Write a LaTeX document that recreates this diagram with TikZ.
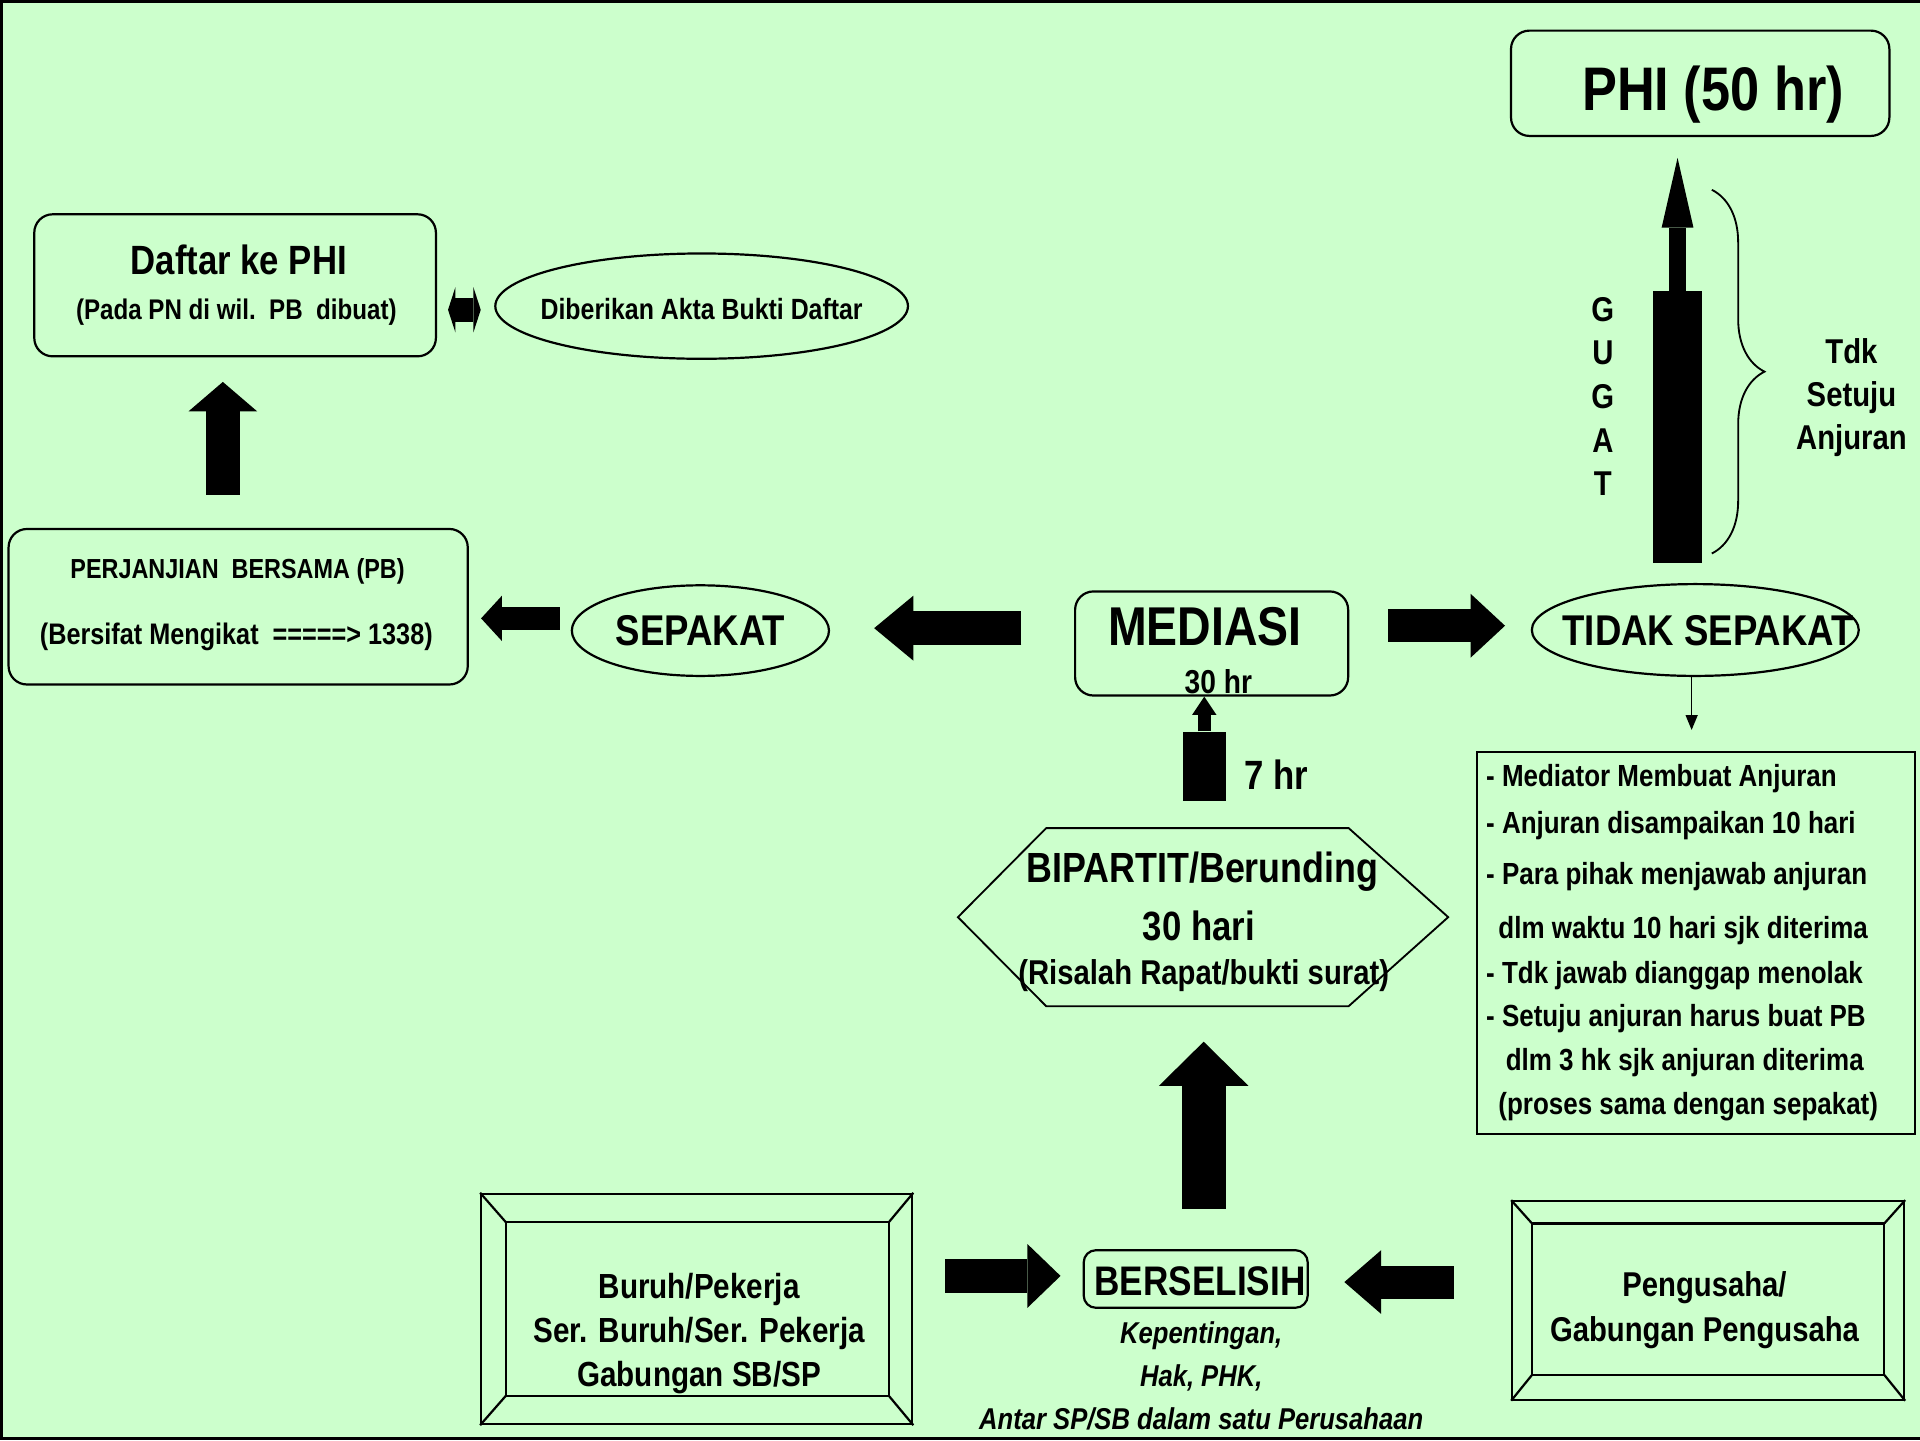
\documentclass[tikz,border=0pt]{standalone}
\usepackage{fontspec}
\setmainfont{Liberation Sans}[FakeStretch=0.85]
\usetikzlibrary{arrows.meta,calc,shapes.geometric,decorations.pathreplacing}
\definecolor{bggreen}{HTML}{CCFFCC}
\newcommand\fsz[1]{\fontsize{#1}{#1}\selectfont\bfseries}
\tikzset{roundbox/.style={
  draw,
  rounded corners=1.5mm,
  line width=.18mm}}
\tikzset{ovalbox/.style={
  draw,
  ellipse,
  line width=.18mm,
  inner sep=0pt}}
\tikzset{plainbox/.style={
  draw,
  line width=.18mm,
  inner sep=0pt}}
\tikzset{blockarrow/.style n args={3}{
  line width=#1,
  -{Triangle[width=#2,length=#3,line width=0pt]}}}

\begin{document}
\begin{tikzpicture}[x=.1mm,y=-.1mm,
  bevel/.style={draw,line width=.18mm,inner sep=0pt}
]
  \useasboundingbox (0,0) rectangle (1568,1176);
  \fill[bggreen] (0,0) rectangle (1568,1176);
  \draw[line width=.25mm] (1568,1.2) -- (1.2,1.2) -- (1.2,1174.8) -- (1568,1174.8);

  %%%% Top row %%%%
  \node[roundbox,minimum width=30.9mm,minimum height=8.6mm] (phi) at (1388.5,68) {};
  \node[font=\fsz{14.3}] (phitext) at (1399,77) {PHI (50 hr)};

  \node[roundbox,minimum width=32.8mm,minimum height=11.6mm] (daftar) at (192,233) {};
  \node[font=\fsz{9.5}] (daftartitle) at (195,212) {Daftar ke PHI};
  \node[font=\fsz{6.6}] (daftarsub) at (193,255) {(Pada PN di wil.\ \ PB\ \ dibuat)};
  \node[ovalbox,minimum width=33.7mm,minimum height=8.6mm] (akta) at (573,250) {};
  \node[font=\fsz{6.8}] (aktatext) at (573,252) {Diberikan Akta Bukti Daftar};
  \draw[line width=2mm,{Triangle[width=3.7mm,length=.6mm,line width=0pt]}-{Triangle[width=3.7mm,length=.6mm,line width=0pt]},
    shorten <=.9mm,shorten >=1.1mm] (daftar.east |- 0,253) -- (akta.west |- 0,253);

  %% Perjanjian bersama
  \node[roundbox,minimum width=37.5mm,minimum height=12.7mm] (pb) at (194.5,495.5) {};
  \node[font=\fsz{6.4}] (pbtitle) at (194,467) {PERJANJIAN\ \ BERSAMA (PB)};
  \node[font=\fsz{6.9}] (pbsub) at (193,520) {(Bersifat Mengikat\ \ =====> 1338)};
  \draw[blockarrow={2.8mm}{5.6mm}{2.4mm},shorten <=2.7mm,shorten >=2mm] (pb.north -| 182,0) -- (daftar.south -| 182,0);

  %%%% Middle row %%%%
  \node[ovalbox,minimum width=21mm,minimum height=7.4mm,font=\fsz{10}] (sepakat) at (572,515) {SEPAKAT};
  \node[roundbox,minimum width=22.3mm,minimum height=8.5mm] (mediasi) at (989.5,525.5) {};
  \node[font=\fsz{12.7}] (mediasititle) at (984,512) {MEDIASI};
  \node[font=\fsz{7.7}] (mediasihr) at (995,557) {30 hr};
  \node[ovalbox,minimum width=26.7mm,minimum height=7.5mm] (tidak) at (1384.5,514.5) {};
  \node[font=\fsz{10}] (tidaktext) at (1395,515) {TIDAK SEPAKAT};

  \draw[blockarrow={1.9mm}{3.7mm}{1.7mm},shorten <=.9mm,shorten >=1mm]
    (sepakat.west |- 0,505) -- (pb.east |- 0,505);
  \draw[blockarrow={2.8mm}{5.3mm}{3.2mm},shorten <=4.3mm,shorten >=3.6mm]
    (mediasi.west |- 0,513) -- (sepakat.east |- 0,513);
  \draw[blockarrow={2.7mm}{5.2mm}{2.8mm},shorten <=3.2mm,shorten >=2.1mm]
    (mediasi.east |- 0,511) -- (tidak.west |- 0,511);

  %% Gugat to PHI
  \node[fill,minimum width=4mm,minimum height=22.2mm,inner sep=0pt] (gugatbar) at (1370,349) {};
  \draw[line width=1.4mm,-{Triangle[width=2.6mm,length=5.7mm,line width=0pt]},shorten >=1.7mm]
    (gugatbar.north) -- (gugatbar.north |- phi.south);
  \foreach \l [count=\i from 0] in {G,U,G,A,T}{
    \node[font=\fsz{8}] (gugat\i) at (1309,253+35.5*\i) {\l};
  }
  \draw[line width=.15mm,decorate,decoration={brace,amplitude=4.3mm}] (1398,155) -- (1398,452);
  \node[font=\fsz{8},align=center] (tdk) at (1512,325) {Tdk\\[.7mm] Setuju\\[.7mm] Anjuran};

  %% Anjuran list
  \node[plainbox,minimum width=35.8mm,minimum height=31.2mm] (anjuran) at (1385,770) {};
  \draw[line width=.12mm,-{Triangle[width=1mm,length=1.2mm,line width=0pt]},shorten >=1.7mm]
    ([xshift=-.3mm]tidak.south) -- ([xshift=-.3mm]tidak.south |- anjuran.north);
  \foreach \x/\y/\t [count=\i] in {
    1213/636/{- Mediator Membuat Anjuran},
    1213/674/{- Anjuran disampaikan 10 hari},
    1213/716/{- Para pihak menjawab anjuran},
    1223/760/{dlm waktu 10 hari sjk diterima},
    1213/797/{- Tdk jawab dianggap menolak},
    1213/832/{- Setuju anjuran harus buat PB},
    1229/868/{dlm 3 hk sjk anjuran diterima},
    1223/904/{(proses sama dengan sepakat)}}{
    \node[font=\fsz{7.1},anchor=west,inner sep=0pt] (item\i) at (\x,\y) {\t};
  }

  %%%% Bipartit %%%%
  \node[fill,minimum width=3.5mm,minimum height=5.6mm,inner sep=0pt] (hrbar) at (983.5,626) {};
  \draw[line width=1.1mm,-{Triangle[width=2mm,length=1.5mm,line width=0pt]}]
    (hrbar.north) -- (hrbar.north |- mediasi.south);
  \node[font=\fsz{9.5}] (hrtext) at (1042,633) {7 hr};

  \node[minimum width=39.9mm,minimum height=14.4mm,inner sep=0pt] (bipartit) at (982.5,749) {};
  \draw[line width=.15mm] (bipartit.west)
    -- ($(bipartit.north west)!.18!(bipartit.north east)$)
    -- ($(bipartit.north west)!.797!(bipartit.north east)$)
    -- (bipartit.east)
    -- ($(bipartit.south west)!.797!(bipartit.south east)$)
    -- ($(bipartit.south west)!.18!(bipartit.south east)$)
    -- cycle;
  \node[font=\fsz{9.8}] (biptitle) at (982,712) {BIPARTIT/Berunding};
  \node[font=\fsz{9.5}] (bipdays) at (979,756) {30 hari};
  \node[font=\fsz{8}] (bipnote) at (983,797) {(Risalah Rapat/bukti surat)};

  %%%% Bottom row %%%%
  \node[roundbox,rounded corners=1mm,minimum width=18.3mm,minimum height=4.7mm,inner sep=0pt] (berselisih) at (976.5,1044.5) {};
  \node[font=\fsz{9.6}] (berselisihtext) at (980,1046) {BERSELISIH};
  \node[font=\fsz{7}\itshape,align=center] (jenis) at (981,1124) {Kepentingan,\\[1.05mm] Hak, PHK,\\[1.05mm] Antar SP/SB dalam satu Perusahaan};
  \draw[blockarrow={3.6mm}{7.3mm}{3.6mm},shorten <=3.3mm,shorten >=2.9mm]
    (berselisih.north -| 983,0) -- (bipartit.south -| 983,0);

  \node[bevel,minimum width=35.2mm,minimum height=18.8mm] (buruh) at (569,1069) {};
  \draw[line width=.18mm] ($(buruh.north west)+(21,24)$) rectangle ($(buruh.south east)+(-20,-24)$);
  \draw[line width=.18mm]
    (buruh.north west) -- ($(buruh.north west)+(21,24)$)
    (buruh.north east) -- ($(buruh.north east)+(-20,24)$)
    (buruh.south west) -- ($(buruh.south west)+(21,-24)$)
    (buruh.south east) -- ($(buruh.south east)+(-20,-24)$);
  \node[font=\fsz{8.1},align=center] (buruhtext) at (571,1089) {Buruh/Pekerja\\[.75mm] Ser. Buruh/Ser. Pekerja\\[.75mm] Gabungan SB/SP};

  \node[bevel,minimum width=32mm,minimum height=16.2mm] (pengusaha) at (1395,1062) {};
  \draw[line width=.18mm] ($(pengusaha.north west)+(17,19)$) rectangle ($(pengusaha.south east)+(-17,-21)$);
  \draw[line width=.18mm]
    (pengusaha.north west) -- ($(pengusaha.north west)+(17,19)$)
    (pengusaha.north east) -- ($(pengusaha.north east)+(-17,19)$)
    (pengusaha.south west) -- ($(pengusaha.south west)+(17,-21)$)
    (pengusaha.south east) -- ($(pengusaha.south east)+(-17,-21)$);
  \node[font=\fsz{8},align=center] (pengusahatext) at (1392,1070) {Pengusaha/\\[.9mm] Gabungan Pengusaha};

  \draw[blockarrow={2.8mm}{5.2mm}{2.7mm},shorten <=2.6mm,shorten >=1.8mm]
    (buruh.east |- 0,1042) -- (berselisih.west |- 0,1042);
  \draw[blockarrow={2.7mm}{5.2mm}{3mm},shorten <=4.7mm,shorten >=2.9mm]
    (pengusaha.west |- 0,1047) -- (berselisih.east |- 0,1047);

\end{tikzpicture}
\end{document}
